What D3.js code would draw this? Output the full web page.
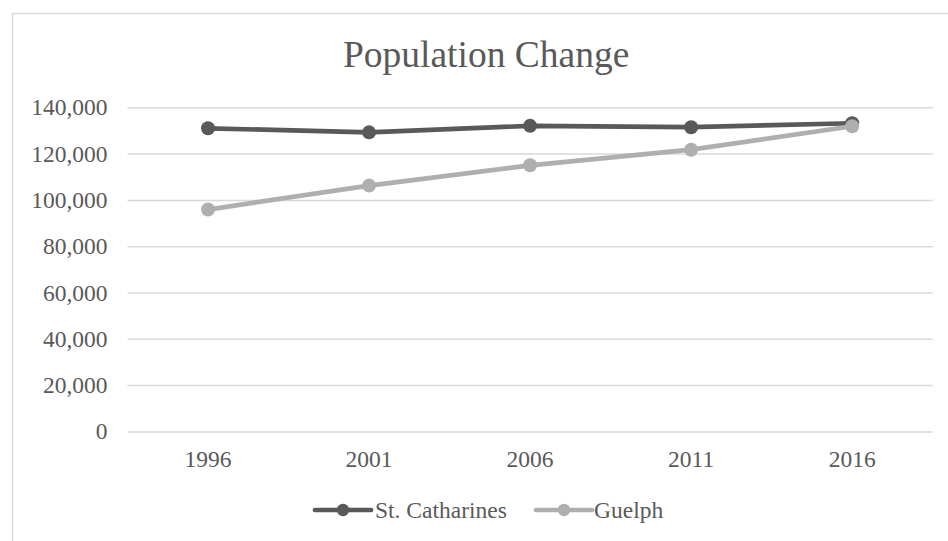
<!DOCTYPE html>
<html>
<head>
<meta charset="utf-8">
<script src="https://cdn.jsdelivr.net/npm/d3@7"></script>
<style>
  body { margin: 0; background: #fff; }
  svg { display: block; font-family: "Liberation Serif", "Times New Roman", serif; }
</style>
</head>
<body>
<svg id="chart" width="948" height="541"></svg>
<script>
// data
const years = ['1996', '2001', '2006', '2011', '2016'];
const stCatharines = [130926, 129170, 131989, 131400, 133113];
const guelph = [95821, 106170, 114943, 121688, 131794];
const yTicks = [0, 20000, 40000, 60000, 80000, 100000, 120000, 140000];

const series = [
  { name: 'St. Catharines', values: stCatharines, color: '#595959' },
  { name: 'Guelph', values: guelph, color: '#afafaf' }
];

const plot = { left: 127.5, right: 932.7, top: 107.3, bottom: 431.4 };

const svg = d3.select('#chart');
const textColor = '#595959';
const gridColor = '#d9d9d9';

// chart frame (runs off the right and bottom edge)
svg.append('rect')
  .attr('x', 12.5).attr('y', 13.5)
  .attr('width', 980).attr('height', 600)
  .attr('fill', '#fff')
  .attr('stroke', gridColor)
  .attr('stroke-width', 1.5);

// title
svg.append('text')
  .attr('x', (plot.left + plot.right) / 2 - 44)
  .attr('y', 66.5)
  .attr('text-anchor', 'middle')
  .attr('font-size', 37.5)
  .attr('fill', textColor)
  .text('Population Change');

const x = d3.scaleBand().domain(years).range([plot.left, plot.right]);
const y = d3.scaleLinear().domain([0, 140000]).range([plot.bottom, plot.top]);
const fmt = d3.format(',');

// gridlines + y labels
const yAxis = svg.append('g')
  .call(d3.axisLeft(y).tickValues(yTicks).tickFormat(fmt)
    .tickSize(-(plot.right - plot.left)).tickPadding(20))
  .attr('transform', `translate(${plot.left},0)`);
yAxis.select('.domain').remove();
yAxis.selectAll('line').attr('stroke', gridColor).attr('stroke-width', 1.5);
yAxis.selectAll('text')
  .attr('font-size', 23.5)
  .attr('font-family', '"Liberation Serif", serif')
  .attr('fill', textColor);

// x labels
const xAxis = svg.append('g')
  .attr('transform', `translate(0,${plot.bottom})`)
  .call(d3.axisBottom(x).tickSize(0).tickPadding(18.5));
xAxis.select('.domain').remove();
xAxis.selectAll('text')
  .attr('font-size', 23.5)
  .attr('font-family', '"Liberation Serif", serif')
  .attr('fill', textColor);

const cx = d => x(d) + x.bandwidth() / 2;
const line = d3.line().x((v, i) => cx(years[i])).y(v => y(v));

series.forEach(s => {
  const g = svg.append('g');
  g.append('path')
    .attr('d', line(s.values))
    .attr('fill', 'none')
    .attr('stroke', s.color)
    .attr('stroke-width', 4.7)
    .attr('stroke-linejoin', 'round');
  g.selectAll('circle')
    .data(s.values)
    .enter().append('circle')
    .attr('cx', (v, i) => cx(years[i]))
    .attr('cy', v => y(v))
    .attr('r', 7)
    .attr('fill', s.color);
});

// legend
const legendItems = [
  { x0: 315, textX: 375 },
  { x0: 536, textX: 594 }
];
const legendY = 510;
series.forEach((s, i) => {
  const it = legendItems[i];
  const lg = svg.append('g');
  lg.append('line')
    .attr('x1', it.x0).attr('x2', it.x0 + 56)
    .attr('y1', legendY).attr('y2', legendY)
    .attr('stroke', s.color)
    .attr('stroke-width', 4.7)
    .attr('stroke-linecap', 'round');
  lg.append('circle')
    .attr('cx', it.x0 + 28).attr('cy', legendY)
    .attr('r', 6.2)
    .attr('fill', s.color);
  lg.append('text')
    .attr('x', it.textX).attr('y', legendY + 7.5)
    .attr('font-size', 23.5)
    .attr('fill', textColor)
    .text(s.name);
});
</script>
</body>
</html>
